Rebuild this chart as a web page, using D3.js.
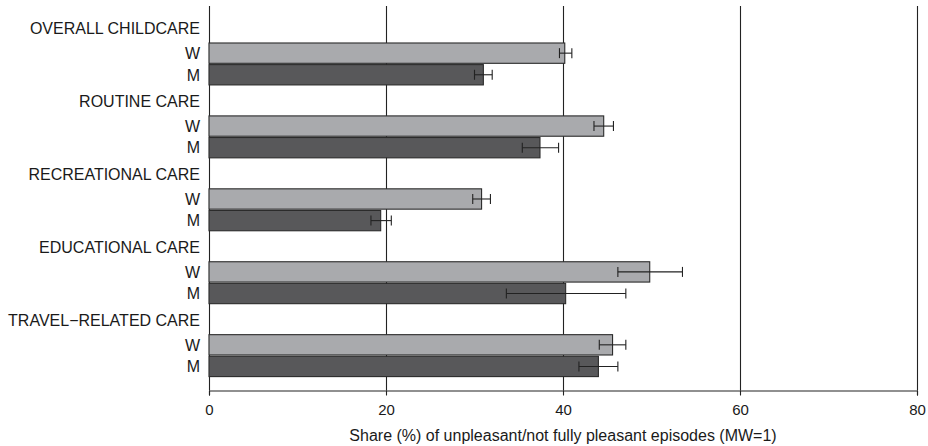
<!DOCTYPE html>
<html>
<head>
<meta charset="utf-8">
<script src="https://cdn.jsdelivr.net/npm/d3@7"></script>
<style>
	body { margin: 0; background: #fff; }
	svg { display: block; }
	text { font-family: "Liberation Sans", Arial, Helvetica, sans-serif; fill: #1a1a1a; }
</style>
</head>
<body>
<div id="myChart"></div>
<script>

// Data
var categories = ["OVERALL CHILDCARE", "ROUTINE CARE", "RECREATIONAL CARE", "EDUCATIONAL CARE", "TRAVEL\u2212RELATED CARE"];
var sexes = ["W", "M"];
var womenShare = [40.2, 44.6, 30.8, 49.8, 45.6];
var womenLo = [39.6, 43.5, 29.8, 46.2, 44.1];
var womenHi = [41.0, 45.7, 31.8, 53.5, 47.1];
var menShare = [31.0, 37.4, 19.4, 40.3, 44.0];
var menLo = [30.0, 35.4, 18.3, 33.6, 41.8];
var menHi = [32.0, 39.5, 20.6, 47.1, 46.2];
var xTicks = [0, 20, 40, 60, 80];
var xTitle = "Share (%) of unpleasant/not fully pleasant episodes (MW=1)";

// table of bars built from the arrays above
var rows = [];
for (var j = 0; j < categories.length; j++) {
	rows.push({cat: categories[j], sex: "W", value: womenShare[j], lo: womenLo[j], hi: womenHi[j]});
	rows.push({cat: categories[j], sex: "M", value: menShare[j], lo: menLo[j], hi: menHi[j]});
}

var width = 928;
var height = 446;

var plot = {left: 209, right: 917, top: 6, bottom: 390.5};

var color = {"W": "#a9aaad", "M": "#58585a"};

var canvass = d3.select("#myChart")
	.append("svg")
	.attr("width", width)
	.attr("height", height);

// scales
var xScale = d3.scaleLinear()
	.domain([0, 80])
	.range([plot.left, plot.right]);

var groupScale = d3.scaleBand()
	.domain(categories)
	.range([12, 376.6])
	.padding(0);

var gh = groupScale.bandwidth();
// first 31px of every group is the group label, then the W and M bars
var sexScale = d3.scaleBand()
	.domain(sexes)
	.range([gh * 0.425, gh])
	.paddingInner(0.06)
	.paddingOuter(0);

// grid lines (behind the bars)
canvass.append("g")
	.selectAll("line")
	.data(xTicks)
	.enter()
	.append("line")
	.attr("x1", function(d) { return Math.round(xScale(d)) + 0.5; })
	.attr("x2", function(d) { return Math.round(xScale(d)) + 0.5; })
	.attr("y1", plot.top)
	.attr("y2", plot.bottom)
	.attr("stroke", "#222")
	.attr("stroke-width", 1.1);

// x axis
var xAxis = canvass.append("g")
	.attr("transform", "translate(0," + plot.bottom + ")")
	.call(d3.axisBottom(xScale).tickValues(xTicks).tickSizeOuter(0).tickSize(5).tickPadding(9));

xAxis.select(".domain").attr("stroke", "#222").attr("stroke-width", 1.1);
xAxis.selectAll(".tick line").attr("stroke", "#222").attr("stroke-width", 1.1);
xAxis.selectAll(".tick text")
	.style("font-size", "15px")
	.style("fill", "#1a1a1a")
	.style("font-family", "'Liberation Sans', Arial, sans-serif");

// x axis title
canvass.append("text")
	.attr("x", (plot.left + plot.right) / 2)
	.attr("y", 441)
	.style("text-anchor", "middle")
	.style("font-size", "16px")
	.text(xTitle);

// group labels
canvass.append("g")
	.selectAll("text")
	.data(categories)
	.enter()
	.append("text")
	.attr("x", 200)
	.attr("y", function(d) { return groupScale(d) + 16.5; })
	.attr("dy", "0.36em")
	.style("text-anchor", "end")
	.style("font-size", "16px")
	.text(function(d) { return d; });

// W / M labels
canvass.append("g")
	.selectAll("text")
	.data(rows)
	.enter()
	.append("text")
	.attr("x", 200)
	.attr("y", function(d) { return groupScale(d.cat) + sexScale(d.sex) + sexScale.bandwidth() / 2; })
	.attr("dy", "0.36em")
	.style("text-anchor", "end")
	.style("font-size", "16px")
	.text(function(d) { return d.sex; });

// bars
var rectGrp = canvass.append("g");

rectGrp.selectAll("rect")
	.data(rows)
	.enter()
	.append("rect")
	.attr("x", xScale(0))
	.attr("y", function(d) { return groupScale(d.cat) + sexScale(d.sex); })
	.attr("width", function(d) { return xScale(d.value) - xScale(0); })
	.attr("height", sexScale.bandwidth())
	.attr("fill", function(d) { return color[d.sex]; })
	.attr("stroke", "#2b2b2b")
	.attr("stroke-width", 1.1);

// error bars
var errGrp = canvass.append("g")
	.attr("stroke", "#222")
	.attr("stroke-width", 1.1);

errGrp.selectAll(".err")
	.data(rows)
	.enter()
	.append("line")
	.attr("x1", function(d) { return xScale(d.lo); })
	.attr("x2", function(d) { return xScale(d.hi); })
	.attr("y1", function(d) { return groupScale(d.cat) + sexScale(d.sex) + sexScale.bandwidth() / 2; })
	.attr("y2", function(d) { return groupScale(d.cat) + sexScale(d.sex) + sexScale.bandwidth() / 2; });

var capHalf = 5;
["lo", "hi"].forEach(function(k) {
	errGrp.selectAll(".cap-" + k)
		.data(rows)
		.enter()
		.append("line")
		.attr("x1", function(d) { return xScale(d[k]); })
		.attr("x2", function(d) { return xScale(d[k]); })
		.attr("y1", function(d) { return groupScale(d.cat) + sexScale(d.sex) + sexScale.bandwidth() / 2 - capHalf; })
		.attr("y2", function(d) { return groupScale(d.cat) + sexScale(d.sex) + sexScale.bandwidth() / 2 + capHalf; });
});

</script>
</body>
</html>
